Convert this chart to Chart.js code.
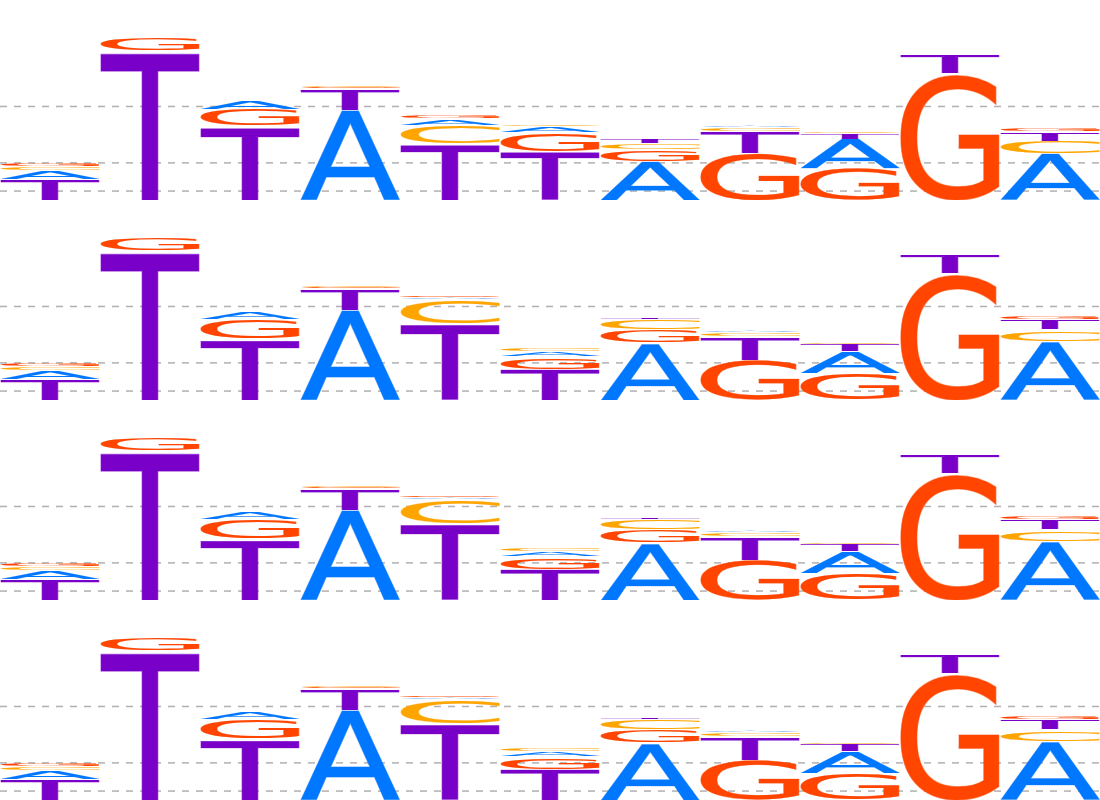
<!DOCTYPE html>
<html>
<head>
<meta charset="utf-8">
<script src="https://cdn.jsdelivr.net/npm/chart.js@4.4.1/dist/chart.umd.min.js"></script>
<style>
  html, body { margin: 0; padding: 0; background: #ffffff; }
  #wrap { position: relative; width: 1100px; height: 800px; overflow: hidden; }
  .panel { position: absolute; left: 0; width: 1100px; height: 200px; }
</style>
</head>
<body>
<div id="wrap">
  <div class="panel" style="top:0px"><canvas id="c0" width="1100" height="200"></canvas></div>
  <div class="panel" style="top:200px"><canvas id="c1" width="1100" height="200"></canvas></div>
  <div class="panel" style="top:400px"><canvas id="c2" width="1100" height="200"></canvas></div>
  <div class="panel" style="top:600px"><canvas id="c3" width="1100" height="200"></canvas></div>
</div>
<script>
// ---- data (information content per letter, per position) ----
const positions = ['1','2','3','4','5','6','7','8','9','10','11'];
const bases = ['A','C','G','T'];

const panel1A = [0.090, 0.000, 0.091, 0.957, 0.074, 0.064, 0.413, 0.026, 0.311, 0.000, 0.491];
const panel1C = [0.046, 0.000, 0.000, 0.016, 0.197, 0.020, 0.064, 0.037, 0.016, 0.000, 0.138];
const panel1G = [0.044, 0.138, 0.180, 0.020, 0.036, 0.205, 0.127, 0.498, 0.339, 1.345, 0.039];
const panel1T = [0.222, 1.592, 0.787, 0.230, 0.596, 0.515, 0.053, 0.233, 0.064, 0.204, 0.099];

const panel2A = [0.090, 0.000, 0.081, 0.957, 0.026, 0.053, 0.610, 0.024, 0.240, 0.000, 0.628];
const panel2C = [0.046, 0.000, 0.000, 0.016, 0.258, 0.035, 0.109, 0.039, 0.012, 0.000, 0.120];
const panel2G = [0.044, 0.138, 0.212, 0.020, 0.022, 0.134, 0.141, 0.427, 0.279, 1.345, 0.035];
const panel2T = [0.222, 1.592, 0.650, 0.230, 0.808, 0.328, 0.032, 0.251, 0.081, 0.204, 0.109];

const panel3A = [0.090, 0.000, 0.081, 0.957, 0.026, 0.053, 0.610, 0.024, 0.240, 0.000, 0.628];
const panel3C = [0.046, 0.000, 0.000, 0.016, 0.258, 0.035, 0.109, 0.039, 0.012, 0.000, 0.120];
const panel3G = [0.044, 0.138, 0.212, 0.020, 0.022, 0.134, 0.141, 0.427, 0.279, 1.345, 0.035];
const panel3T = [0.222, 1.592, 0.650, 0.230, 0.808, 0.328, 0.032, 0.251, 0.081, 0.204, 0.109];

const panel4A = [0.090, 0.000, 0.081, 0.957, 0.026, 0.053, 0.610, 0.024, 0.240, 0.000, 0.628];
const panel4C = [0.046, 0.000, 0.000, 0.016, 0.258, 0.035, 0.109, 0.039, 0.012, 0.000, 0.120];
const panel4G = [0.044, 0.138, 0.212, 0.020, 0.022, 0.134, 0.141, 0.427, 0.279, 1.345, 0.035];
const panel4T = [0.222, 1.592, 0.650, 0.230, 0.808, 0.328, 0.032, 0.251, 0.081, 0.204, 0.109];

const gridValues = [0.1, 0.4, 1.0];
const yMin = 0.005;
const yMax = 2.133;

// ---- styling ----
const letterColors = { A: '#0077ff', C: '#ffa500', G: '#ff4500', T: '#7800c8' };
const GLYPH_FONT = '100px "DejaVu Sans"';

const panels = [
  { A: panel1A, C: panel1C, G: panel1G, T: panel1T },
  { A: panel2A, C: panel2C, G: panel2G, T: panel2T },
  { A: panel3A, C: panel3C, G: panel3G, T: panel3T },
  { A: panel4A, C: panel4C, G: panel4G, T: panel4T }
];

// Build stacked datasets by rank: largest letter at the bottom of each column
function buildDatasets(vals) {
  const ranks = bases.map(() => ({ data: [], glyphs: [] }));
  positions.forEach((p, i) => {
    const col = bases.map(L => ({ L: L, v: vals[L][i] })).sort((a, b) => b.v - a.v);
    col.forEach((e, r) => { ranks[r].data.push(e.v); ranks[r].glyphs.push(e.L); });
  });
  return ranks.map((rk, r) => ({
    label: 'rank ' + (r + 1),
    data: rk.data,
    glyphs: rk.glyphs,
    backgroundColor: 'rgba(0,0,0,0)',
    borderWidth: 0,
    categoryPercentage: 1.0,
    barPercentage: 1.0
  }));
}

function drawGlyph(ctx, ch, x, y, w, h, color) {
  ctx.save();
  ctx.font = GLYPH_FONT;
  ctx.textAlign = 'left';
  ctx.textBaseline = 'alphabetic';
  const m = ctx.measureText(ch);
  const l = m.actualBoundingBoxLeft, r = m.actualBoundingBoxRight;
  const a = m.actualBoundingBoxAscent, d = m.actualBoundingBoxDescent;
  const sx = w / (l + r), sy = h / (a + d);
  ctx.translate(x, y);
  ctx.scale(sx, sy);
  ctx.fillStyle = color;
  ctx.fillText(ch, l, a);
  ctx.globalAlpha = 0.55;
  ctx.strokeStyle = color;
  ctx.lineWidth = 1.1 / sx;
  ctx.lineJoin = 'miter';
  ctx.strokeText(ch, l, a);
  ctx.restore();
}

const gridPlugin = {
  id: 'dashedGrid',
  beforeDatasetsDraw(chart) {
    const ctx = chart.ctx, area = chart.chartArea, ys = chart.scales.y;
    ctx.save();
    ctx.strokeStyle = 'rgba(150,150,150,0.75)';
    ctx.lineWidth = 1.5;
    ctx.setLineDash([7, 7]);
    gridValues.forEach(v => {
      const py = ys.getPixelForValue(v);
      ctx.beginPath();
      ctx.moveTo(area.left, py);
      ctx.lineTo(area.right, py);
      ctx.stroke();
    });
    ctx.restore();
  }
};

const glyphPlugin = {
  id: 'glyphs',
  afterDatasetsDraw(chart) {
    const ctx = chart.ctx;
    chart.data.datasets.forEach((ds, di) => {
      const meta = chart.getDatasetMeta(di);
      meta.data.forEach((bar, i) => {
        const v = ds.data[i];
        if (!v) return;
        const p = bar.getProps(['x', 'y', 'base', 'width'], true);
        const top = Math.min(p.y, p.base), bottom = Math.max(p.y, p.base);
        const padTop = 0.5, padBottom = 0.8;
        let h = bottom - top - padTop - padBottom;
        let y0 = top + padTop;
        if (h < 0.6) { y0 = (top + bottom) / 2 - 0.3; h = 0.6; }
        const L = ds.glyphs[i];
        drawGlyph(ctx, L, p.x - p.width / 2, y0, p.width, h, letterColors[L]);
      });
    });
  }
};

panels.forEach((vals, k) => {
  new Chart(document.getElementById('c' + k), {
    type: 'bar',
    data: { labels: positions, datasets: buildDatasets(vals) },
    options: {
      responsive: false,
      animation: false,
      events: [],
      layout: { padding: 0 },
      plugins: { legend: { display: false }, tooltip: { enabled: false } },
      scales: {
        x: { stacked: true, display: false, offset: true },
        y: { stacked: true, display: false, min: yMin, max: yMax }
      }
    },
    plugins: [gridPlugin, glyphPlugin]
  });
});
</script>
</body>
</html>
